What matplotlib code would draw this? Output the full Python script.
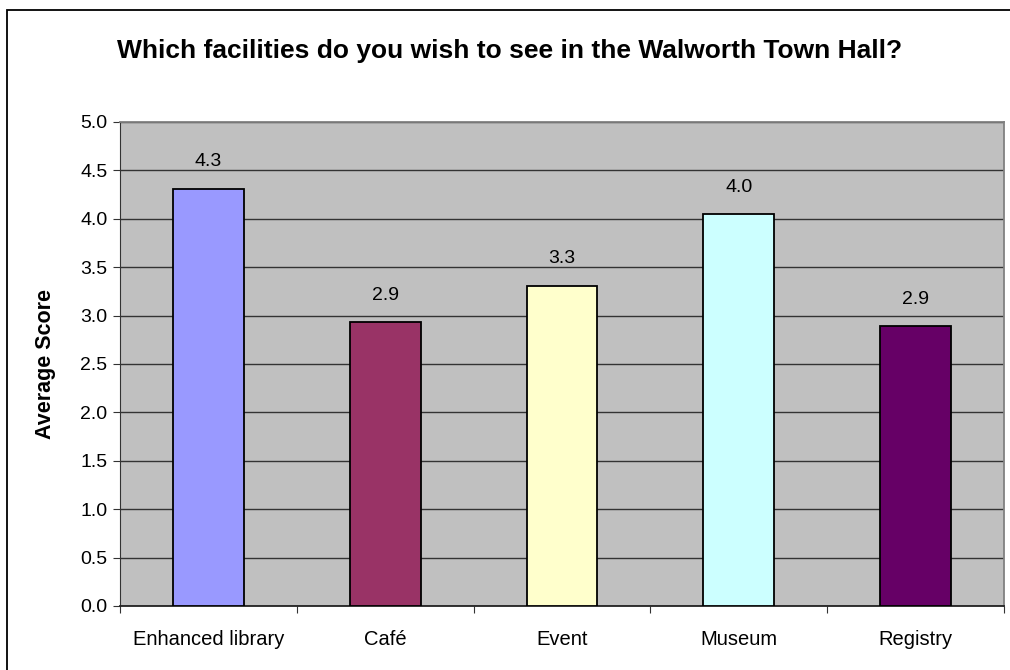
import matplotlib
matplotlib.use('Agg')
import matplotlib.pyplot as plt
from matplotlib.patches import Rectangle

categories = ['Enhanced library', 'Café', 'Event', 'Museum', 'Registry']
scores = [4.31, 2.93, 3.31, 4.05, 2.89]
labels = ['4.3', '2.9', '3.3', '4.0', '2.9']
colors = ['#9999FF', '#993366', '#FFFFCC', '#CCFFFF', '#660066']
yticks = [0.0, 0.5, 1.0, 1.5, 2.0, 2.5, 3.0, 3.5, 4.0, 4.5, 5.0]

plt.rcParams['font.family'] = ['Liberation Sans', 'DejaVu Sans']

fig = plt.figure(figsize=(10.1, 6.7), dpi=100)
# outer chart border (only top/left fall inside the image)
fig.patches.append(Rectangle((7 / 1010, -0.1), 1.2, 1 - 10 / 670 + 0.1,
                             transform=fig.transFigure, fill=False,
                             ec='black', lw=1.3))

ax = fig.add_axes([120 / 1010, 1 - 606 / 670, 884 / 1010, 484 / 670])
ax.set_facecolor('#C0C0C0')
x = range(len(categories))
ax.bar(x, scores, width=0.4, color=colors, edgecolor='black', lw=1.3, zorder=3)
for i, (v, t) in enumerate(zip(scores, labels)):
    ax.text(i, v + 0.19, t, ha='center', va='bottom', fontsize=14)

ax.set_xlim(-0.5, len(categories) - 0.5)
ax.set_ylim(0, 5)
ax.set_yticks(yticks)
ax.set_yticklabels(['%.1f' % t for t in yticks], fontsize=14)
ax.yaxis.grid(True, color='#333333', lw=1)
ax.set_axisbelow(True)

ax.set_xticks([i + 0.5 for i in range(-1, len(categories))])
ax.set_xticklabels([])
ax.set_xticks(list(x), minor=True)
ax.set_xticklabels(categories, minor=True, fontsize=14.5)
ax.tick_params(axis='x', which='minor', length=0, pad=17)
ax.tick_params(axis='x', which='major', length=5, color='#333333')
ax.tick_params(axis='y', length=5, color='#333333', pad=4)

for s in ['top', 'right']:
    ax.spines[s].set_color('#808080')
    ax.spines[s].set_linewidth(1.3)
ax.spines['left'].set_color('#333333')
ax.spines['bottom'].set_color('#222222')
ax.spines['bottom'].set_linewidth(1.3)

ax.set_ylabel('Average Score', fontsize=15.5, fontweight='bold')
ax.yaxis.set_label_coords(-0.072, 0.5)
fig.text(0.505, 1 - 51 / 670, 'Which facilities do you wish to see in the Walworth Town Hall?',
         ha='center', va='center', fontsize=19, fontweight='bold')

fig.savefig('out.png', dpi=100)
